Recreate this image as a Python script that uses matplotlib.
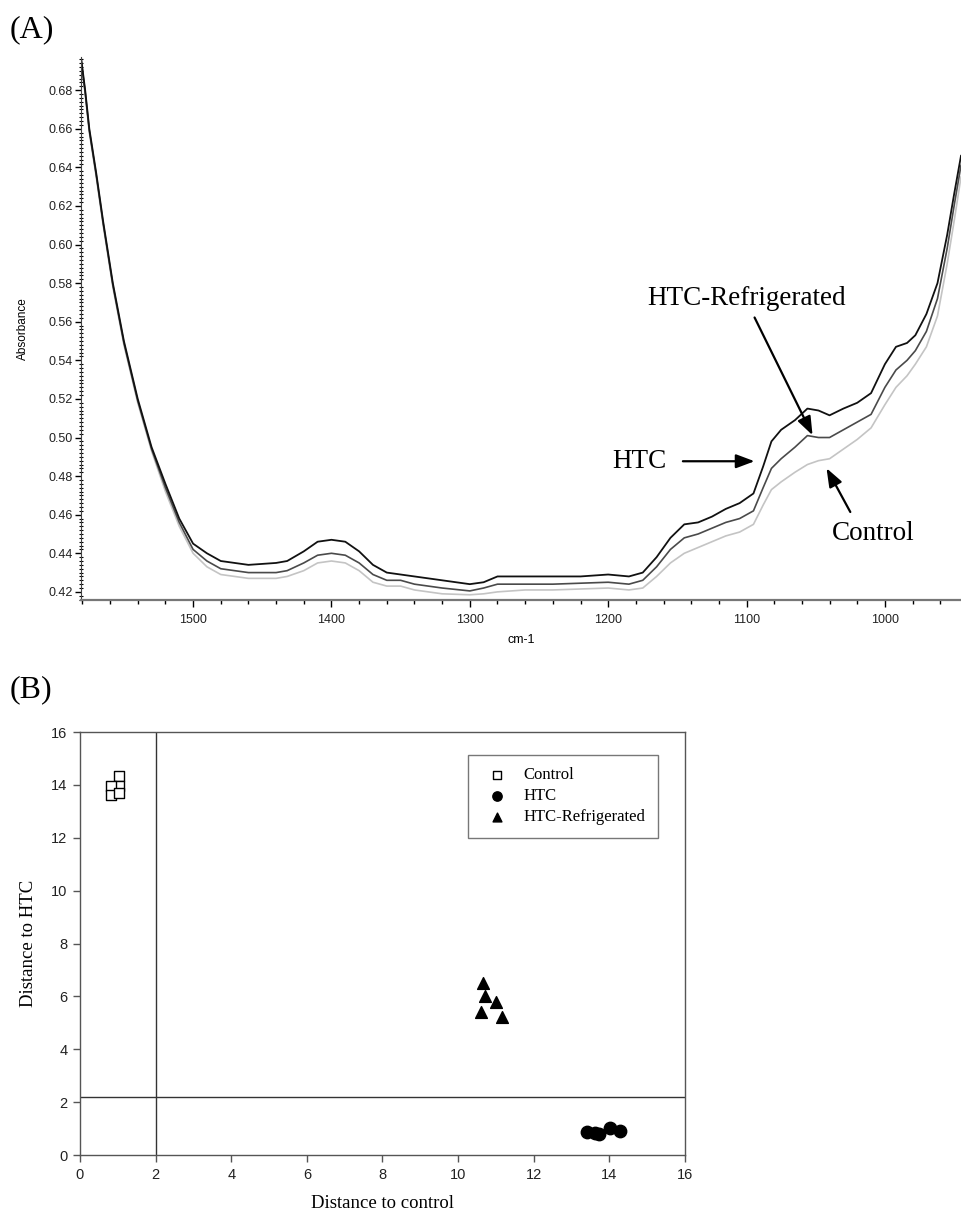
import numpy as np
import matplotlib
matplotlib.use("Agg")
import matplotlib.pyplot as plt
from matplotlib.ticker import MultipleLocator, FormatStrFormatter

# ---- panel A: spectra (wavenumber grid, absorbance)
wavenumber = [1581, 1578, 1575, 1570, 1565, 1558, 1550, 1540, 1530, 1520, 1510, 1500,
              1490, 1480, 1470, 1460, 1440, 1432, 1420, 1410, 1400, 1390, 1380, 1370,
              1360, 1350, 1340, 1320, 1300, 1290, 1280, 1260, 1240, 1220, 1200, 1185,
              1175, 1165, 1155, 1145, 1135, 1125, 1115, 1105, 1095, 1088, 1082, 1075,
              1065, 1056, 1048, 1040, 1030, 1020, 1010, 1000, 992, 984, 978, 970,
              962, 955, 950, 945]

abs_htc = [0.697, 0.680, 0.660, 0.637, 0.612, 0.580, 0.550, 0.520, 0.495, 0.476, 0.458, 0.445,
           0.440, 0.436, 0.435, 0.434, 0.435, 0.436, 0.441, 0.446, 0.447, 0.446, 0.441, 0.434,
           0.430, 0.429, 0.428, 0.426, 0.424, 0.425, 0.428, 0.428, 0.428, 0.428, 0.429, 0.428,
           0.430, 0.438, 0.448, 0.455, 0.456, 0.459, 0.463, 0.466, 0.471, 0.485, 0.498, 0.504,
           0.509, 0.515, 0.514, 0.5115, 0.515, 0.518, 0.523, 0.538, 0.547, 0.549, 0.553, 0.564,
           0.580, 0.605, 0.626, 0.646]

abs_refrig = [0.696, 0.679, 0.659, 0.636, 0.611, 0.579, 0.549, 0.519, 0.494, 0.474, 0.456, 0.442,
              0.436, 0.432, 0.431, 0.430, 0.430, 0.431, 0.435, 0.439, 0.440, 0.439, 0.435, 0.429,
              0.426, 0.426, 0.424, 0.422, 0.4205, 0.422, 0.424, 0.424, 0.424, 0.4245, 0.425, 0.424,
              0.426, 0.433, 0.442, 0.448, 0.450, 0.453, 0.456, 0.458, 0.462, 0.474, 0.484, 0.489,
              0.495, 0.501, 0.500, 0.500, 0.504, 0.508, 0.512, 0.526, 0.535, 0.540, 0.545, 0.555,
              0.572, 0.598, 0.620, 0.641]

abs_control = [0.695, 0.678, 0.658, 0.635, 0.610, 0.578, 0.548, 0.518, 0.493, 0.472, 0.454, 0.440,
               0.433, 0.429, 0.428, 0.427, 0.427, 0.428, 0.431, 0.435, 0.436, 0.435, 0.431, 0.425,
               0.423, 0.423, 0.421, 0.419, 0.4185, 0.419, 0.420, 0.421, 0.421, 0.4215, 0.422, 0.421,
               0.422, 0.428, 0.435, 0.440, 0.443, 0.446, 0.449, 0.451, 0.455, 0.465, 0.473, 0.477,
               0.482, 0.486, 0.488, 0.489, 0.494, 0.499, 0.505, 0.517, 0.526, 0.532, 0.538, 0.547,
               0.563, 0.590, 0.612, 0.635]

# ---- panel B: distances
ctrl_x = [1.03, 1.03, 0.83, 0.83, 1.03]
ctrl_y = [14.33, 13.96, 13.96, 13.62, 13.70]
htc_x = [13.40, 13.63, 13.73, 14.02, 14.28]
htc_y = [0.88, 0.83, 0.79, 1.01, 0.91]
ref_x = [10.66, 10.71, 11.00, 10.61, 11.16]
ref_y = [6.50, 6.01, 5.79, 5.41, 5.22]
cut_x = 2.0
cut_y = 2.19

sans = "Liberation Sans"
serif = "Liberation Serif"

fig = plt.figure(figsize=(9.61, 12.18), dpi=100)

# ================= (A)
ax1 = fig.add_axes([0.0843, 0.5074, 0.9157, 0.4458])
ax1.plot(wavenumber, abs_control, color="#c4c4c4", lw=1.2)
ax1.plot(wavenumber, abs_refrig, color="#4a4a4a", lw=1.2)
ax1.plot(wavenumber, abs_htc, color="#111111", lw=1.3)

ax1.set_xlim(1581, 945)
ax1.set_ylim(0.4158, 0.6972)
ax1.spines["top"].set_visible(False)
ax1.spines["right"].set_visible(False)
ax1.spines["bottom"].set_color("#777777")
ax1.spines["bottom"].set_linewidth(1.6)
ax1.spines["left"].set_color("#444444")

ax1.xaxis.set_major_locator(MultipleLocator(100))
ax1.xaxis.set_minor_locator(MultipleLocator(20))
ax1.yaxis.set_major_locator(MultipleLocator(0.02))
ax1.yaxis.set_minor_locator(MultipleLocator(0.002))
ax1.yaxis.set_major_formatter(FormatStrFormatter("%.2f"))
ax1.tick_params(axis="x", which="major", direction="out", length=5, width=1, pad=5)
ax1.tick_params(axis="x", which="minor", direction="out", length=3, width=1)
ax1.tick_params(axis="y", which="major", direction="out", length=4, width=1, pad=2)
ax1.tick_params(axis="y", which="minor", direction="inout", length=3, width=0.8)
for lab in ax1.get_xticklabels() + ax1.get_yticklabels():
    lab.set_fontfamily(sans)
    lab.set_fontsize(9)
    lab.set_color("#222222")

ax1.set_ylabel("Absorbance", family=sans, fontsize=8.5, labelpad=14)
ax1.set_xlabel("cm-1", family=sans, fontsize=9, labelpad=6)

arrow = dict(arrowstyle="-|>,head_length=0.8,head_width=0.3", color="black", lw=1.6,
             mutation_scale=14, shrinkA=0, shrinkB=0)
ax1.text(1100, 0.572, "HTC-Refrigerated", family=serif, fontsize=19.5, ha="center", va="center")
ax1.annotate("", xy=(1052.3, 0.5012), xytext=(1094.2, 0.5622), arrowprops=arrow)
ax1.text(1157.8, 0.4877, "HTC", family=serif, fontsize=19.5, ha="right", va="center")
ax1.annotate("", xy=(1094.2, 0.4877), xytext=(1146, 0.4877), arrowprops=arrow)
ax1.text(1008.7, 0.4505, "Control", family=serif, fontsize=19.5, ha="center", va="center")
ax1.annotate("", xy=(1042.2, 0.4841), xytext=(1025, 0.4614), arrowprops=arrow)

fig.text(0.010, 0.976, "(A)", family=serif, fontsize=23, ha="left", va="center")

# ================= (B)
ax2 = fig.add_axes([0.0832, 0.0517, 0.6296, 0.3473])
ax2.axvline(cut_x, color="#333333", lw=1)
ax2.axhline(cut_y, color="#333333", lw=1)
ax2.scatter(ctrl_x, ctrl_y, marker="s", s=48, facecolors="white", edgecolors="black",
            linewidths=1, zorder=3, label="Control")
ax2.scatter(htc_x, htc_y, marker="o", s=80, color="black", zorder=3, label="HTC")
ax2.scatter(ref_x, ref_y, marker="^", s=72, color="black", zorder=3, label="HTC-Refrigerated")

ax2.set_xlim(0, 16)
ax2.set_ylim(0, 16)
ax2.xaxis.set_major_locator(MultipleLocator(2))
ax2.yaxis.set_major_locator(MultipleLocator(2))
for s in ax2.spines.values():
    s.set_color("#555555")
    s.set_linewidth(1)
ax2.tick_params(direction="out", length=5, width=1, color="#555555", pad=4)
for lab in ax2.get_xticklabels() + ax2.get_yticklabels():
    lab.set_fontfamily(sans)
    lab.set_fontsize(10.5)
    lab.set_color("#222222")

ax2.set_xlabel("Distance to control", family=serif, fontsize=13.5, labelpad=10)
ax2.set_ylabel("Distance to HTC", family=serif, fontsize=13.5, labelpad=10)

leg = ax2.legend(loc="upper right", bbox_to_anchor=(0.955, 0.946), borderaxespad=0,
                 frameon=True, fancybox=False, edgecolor="#555555",
                 prop={"family": serif, "size": 12}, handletextpad=0.6,
                 labelspacing=0.3, borderpad=0.75, markerscale=0.75)
leg.get_frame().set_linewidth(1)

fig.text(0.010, 0.4335, "(B)", family=serif, fontsize=23, ha="left", va="center")

fig.savefig("out.png", dpi=100)
